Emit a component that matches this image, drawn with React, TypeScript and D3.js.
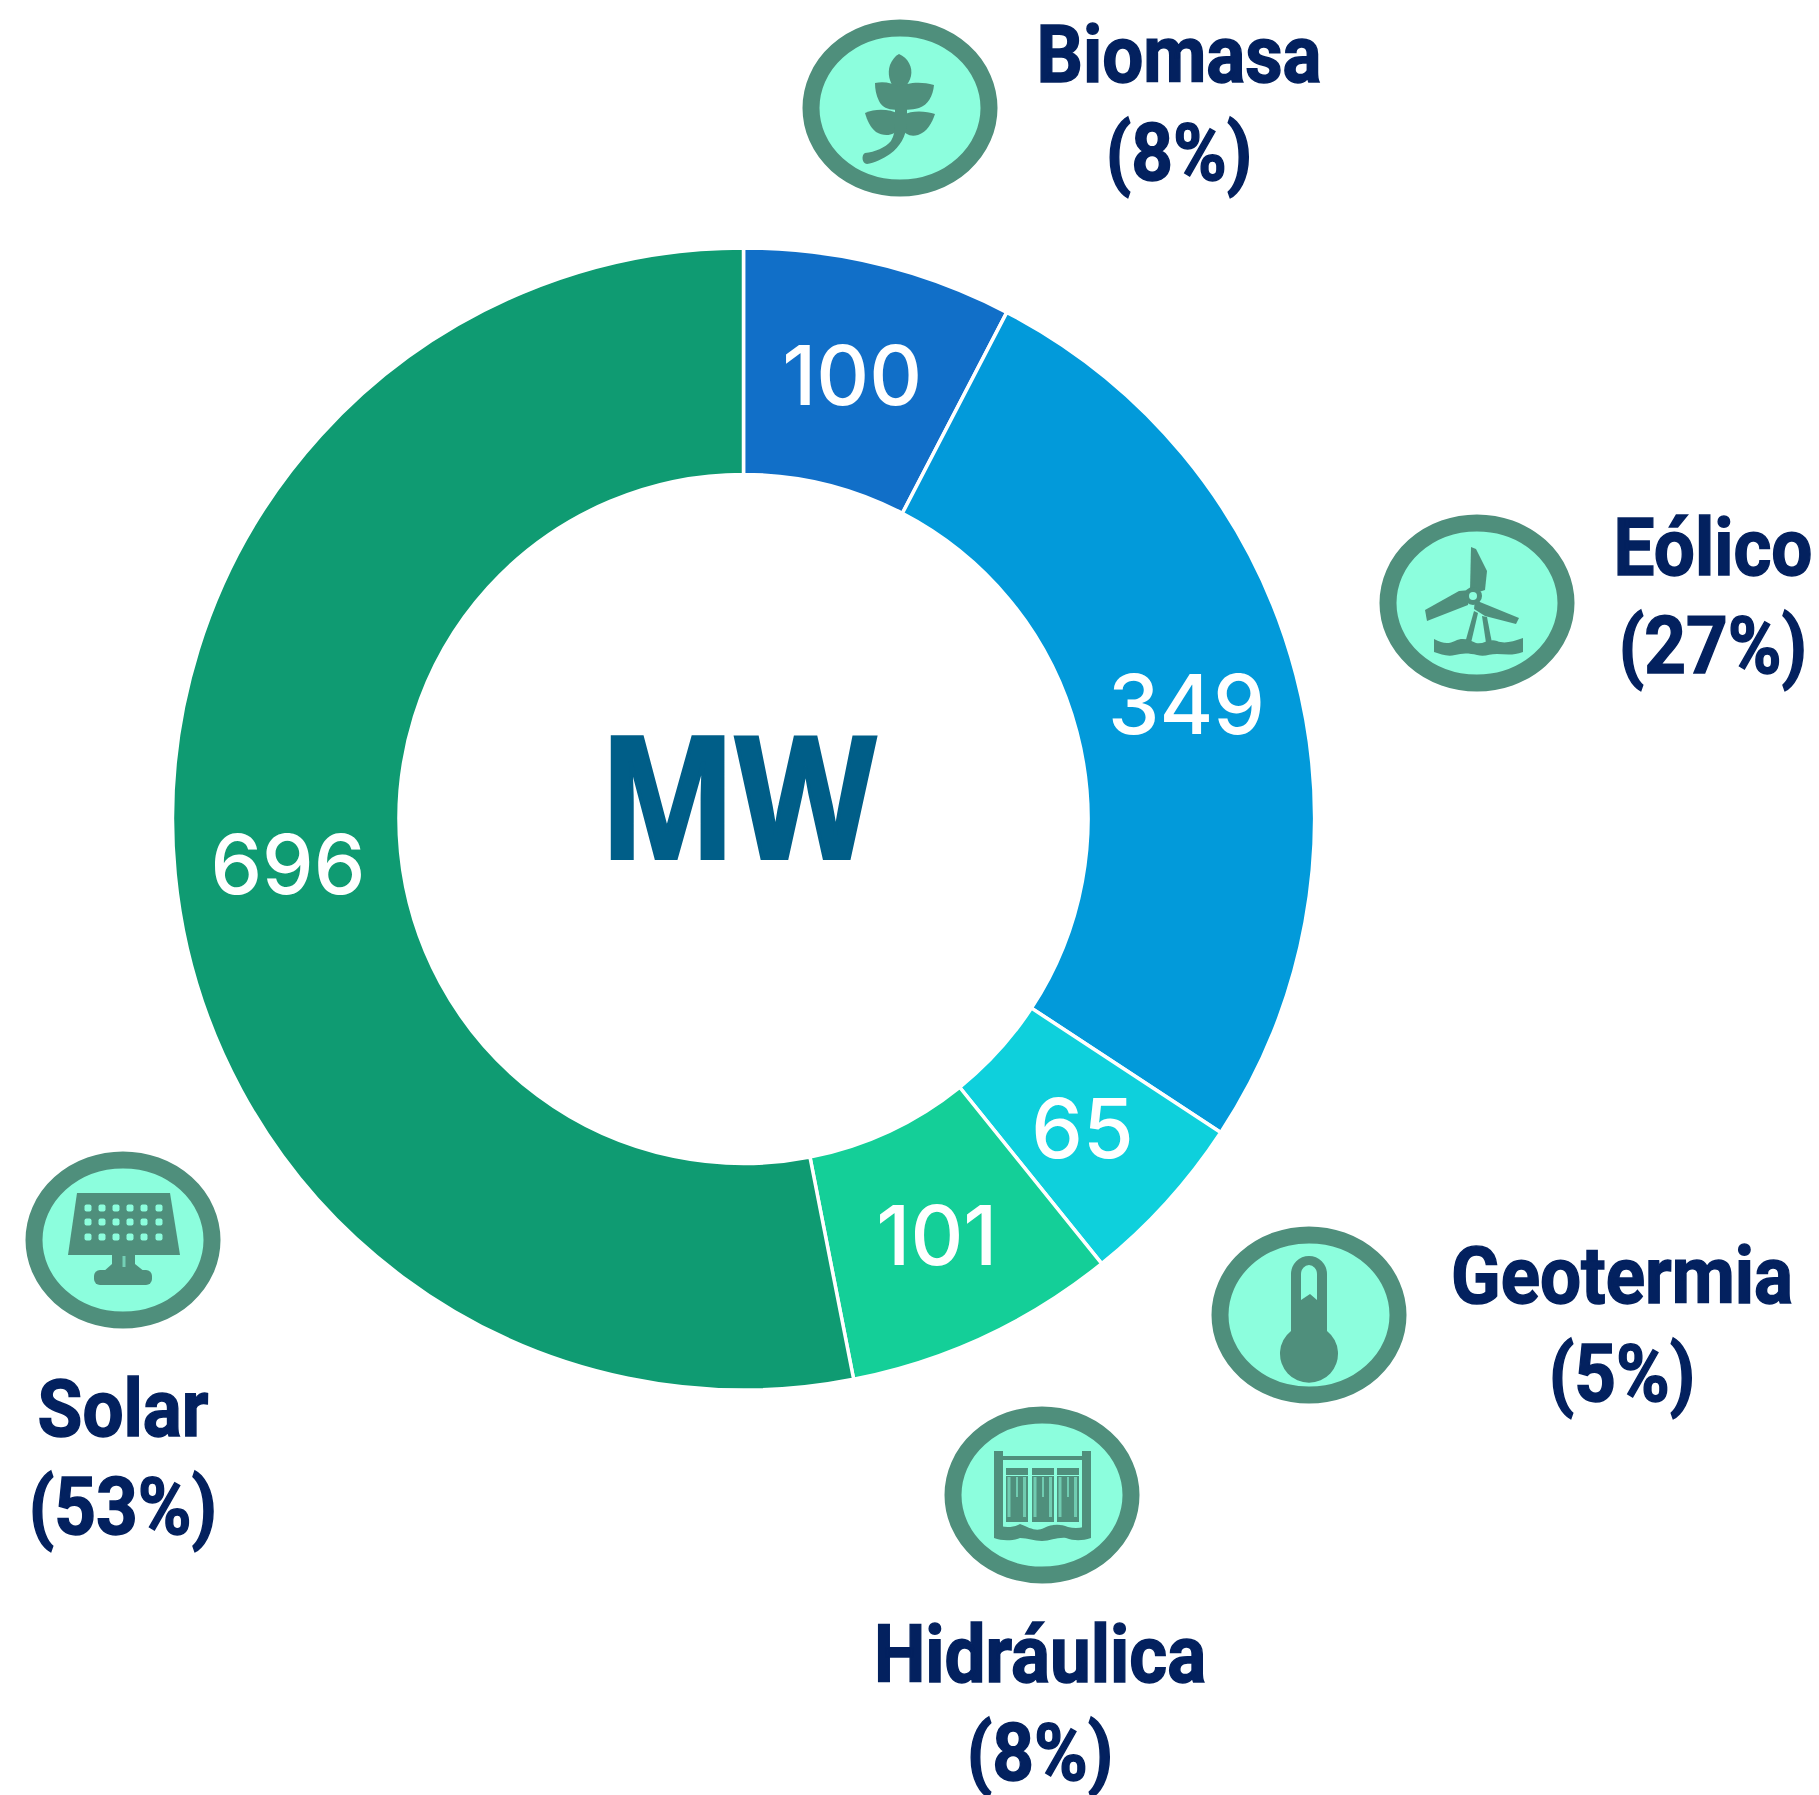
import React from "react";
import * as d3 from "d3";

const categories = ["Biomasa", "Eólico", "Geotermia", "Hidráulica", "Solar"];
const values = [100, 349, 65, 101, 696];
const shares = ["(8%)", "(27%)", "(5%)", "(8%)", "(53%)"];
const colors = ["#116fc8", "#029ada", "#0ed0dc", "#14cf98", "#0f9b72"];

const iconCentres = [[900, 108], [1477, 603], [1309, 1315], [1042, 1495], [123, 1240]];
const labelCentres = [[1179, 82], [1713, 575], [1622, 1303], [1040, 1682], [123, 1436]];
const labelLineGap = 98;

const RING = "#4f8f7c";
const FILL = "#8cfedd";
const INK = "#03215f";
const cx = 743.5, cy = 819, outer = 571, inner = 344.5;

const pie = d3.pie<number>().sort(null).padAngle(0);
const arc = d3.arc<d3.PieArcDatum<number>>().innerRadius(inner).outerRadius(outer);

function LeafIcon() {
  return (
    <g fill={RING}>
      <path d="M-1,-54 C8,-50 13,-41 11,-32 C10,-27 7,-24 5,-20 L-6,-20 C-10,-26 -13,-34 -10,-43 C-8,-48 -5,-52 -1,-54Z" />
      <path d="M-25,-25 C-16,-27 -8,-25 -1,-21 C6,-25 20,-27 34,-23 C33,-12 28,-3 19,0 C12,2 6,2 1,1 C-8,3 -17,1 -21,-7 C-24,-13 -25,-19 -25,-25Z" />
      <path d="M-35,5 C-24,0 -10,1 -1,6 L-1,20 C-5,28 -16,29 -24,24 C-30,19 -33,12 -35,5Z" />
      <path d="M3,7 C12,2 26,3 35,6 C32,15 27,24 18,27 C10,29 5,26 2,21Z" />
      <path d="M-5,0 L7,0 L7,16 C6,28 0,39 -10,46 C-17,51 -26,55 -33,56 C-38,56 -39,47 -35,45 C-25,44 -15,40 -9,33 C-6,28 -5,22 -5,16Z" />
    </g>
  );
}

function WindIcon() {
  return (
    <g>
      <g fill={RING}>
        <path d="M-6,-56 L-1,-54 L10,-32 L8,-13 L-4,-9 L-7,-12Z" />
        <path d="M-52,7 L-50,18 L-9,2 L-7,-13 L-18,-12Z" />
        <path d="M-2,-3 L42,15 L39,21 L8,13 L-3,6Z" />
        <path d="M-3,8 L1,10 L-6,40 L-12,40Z" />
        <path d="M5,13 L10,14 L15,40 L9,40Z" />
        <path d="M-43,36 C-34,41 -28,41 -22,38 C-14,34 -8,37 -1,40 C6,42 12,35 20,38 C27,41 35,39 46,35 L46,49 C35,53 28,51 20,51 C12,51 8,54 0,52 C-8,50 -15,50 -22,52 C-30,54 -36,51 -43,49Z" />
        <circle cx={-4} cy={-7} r={9} />
      </g>
      <circle cx={-4} cy={-7} r={4} fill={FILL} />
    </g>
  );
}

function ThermoIcon() {
  return (
    <g>
      <path
        fill={RING}
        d="M-18,-41 A18,18 0 0 1 18,-41 L18,16 A29,29 0 1 1 -18,16Z"
      />
      <path fill={FILL} d="M-8,-41 A8,9 0 0 1 8,-41 L8,-15 L1,-21 L-8,-15Z" />
    </g>
  );
}

function DamIcon() {
  const gates = [-36, -10, 15];
  return (
    <g>
      <g fill={RING}>
        <rect x={-48} y={-44} width={9} height={78} />
        <rect x={40} y={-44} width={9} height={78} />
        <rect x={-40} y={-39} width={80} height={4} />
        {gates.map((g) => (
          <g key={g}>
            <rect x={g} y={-27} width={22} height={7} />
            <rect x={g} y={-19} width={22} height={46} />
          </g>
        ))}
        <path d="M-48,29 C-38,33 -30,33 -22,29 C-12,33 -6,37 2,33 C10,29 18,29 26,32 C34,34 42,33 49,29 L49,43 C40,46 32,46 24,43 C16,42 8,46 0,46 C-8,46 -14,43 -22,43 C-30,46 -40,46 -48,43Z" />
      </g>
      <g fill={FILL} opacity={0.55}>
        {gates.map((g) => (
          <g key={g}>
            <rect x={g + 1.5} y={-18} width={3} height={40} />
            <rect x={g + 17} y={-18} width={3} height={40} />
            <rect x={g + 10} y={-18} width={2} height={20} />
          </g>
        ))}
      </g>
    </g>
  );
}

function SolarIcon() {
  const xs = [-35, -21, -7, 7, 21, 36];
  const ys = [-32, -18, -3];
  return (
    <g>
      <path fill={RING} d="M-46,-47 L47,-47 L57,15 L-55,15Z" />
      <path fill={RING} d="M-11,14 L12,14 L12,24 L22,32 L-20,32 L-11,24Z" />
      <rect x={-29} y={30} width={58} height={15} rx={6} fill={RING} />
      <rect x={-0.5} y={16} width={3} height={11} fill={FILL} opacity={0.6} />
      <g fill={FILL}>
        {ys.map((y) => xs.map((x) => <rect key={`${x}-${y}`} x={x - 3.5} y={y - 3.5} width={7} height={7} rx={2} />))}
      </g>
    </g>
  );
}

const icons = [LeafIcon, WindIcon, ThermoIcon, DamIcon, SolarIcon];

export default function App() {
  const arcs = pie(values);
  return (
    <svg
      width={1819}
      height={1795}
      viewBox="0 0 1819 1795"
      style={{ position: "absolute", left: 0, top: 0, background: "#fff" }}
    >
      <g transform={`translate(${cx},${cy})`}>
        {arcs.map((a, i) => (
          <path key={categories[i]} d={arc(a) || ""} fill={colors[i]} stroke="#fff" strokeWidth={3.5} />
        ))}
        {arcs.map((a, i) => {
          const [x, y] = arc.centroid(a);
          return (
            <text
              key={categories[i]}
              x={x}
              y={y + 31}
              textAnchor="middle"
              fontFamily="Inter"
              fontWeight={500}
              fontSize={82}
              fill="#fff"
            >
              {values[i]}
            </text>
          );
        })}
        <text
          transform="translate(-6,39) scale(0.86,1)"
          textAnchor="middle"
          fontFamily="'Noto Sans'"
          fontWeight={700}
          fontSize={168}
          fill="#005e88"
          stroke="#005e88"
          strokeWidth={4}
          strokeLinejoin="miter"
        >
          MW
        </text>
      </g>
      {categories.map((c, i) => {
        const Icon = icons[i];
        const [ix, iy] = iconCentres[i];
        const [lx, ly] = labelCentres[i];
        return (
          <g key={c}>
            <g transform={`translate(${ix},${iy})`}>
              <ellipse rx={89} ry={80} fill={FILL} stroke={RING} strokeWidth={17} />
              <Icon />
            </g>
            <g fontFamily="Roboto" fontWeight={700} fontSize={80} fill={INK} stroke={INK} strokeWidth={1.5} textAnchor="middle">
              <text transform={`translate(${lx},${ly}) scale(0.91,1)`}>{c}</text>
              <text transform={`translate(${lx},${ly + labelLineGap}) scale(0.91,1)`}>{shares[i]}</text>
            </g>
          </g>
        );
      })}
    </svg>
  );
}
